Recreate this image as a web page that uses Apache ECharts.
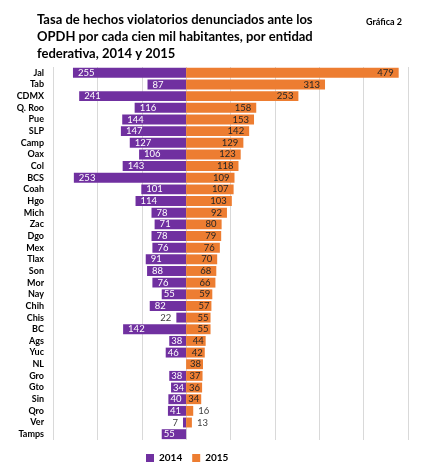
<!DOCTYPE html>
<html><head><meta charset="utf-8">
<script src="https://cdn.jsdelivr.net/npm/echarts@6/dist/echarts.min.js"></script>
<style>html,body{margin:0;padding:0;background:#fff}#c{width:429px;height:471px}</style>
</head><body><div id="c"></div>
<script>
const categories = ["Jal","Tab","CDMX","Q. Roo","Pue","SLP","Camp","Oax","Col","BCS","Coah","Hgo","Mich","Zac","Dgo","Mex","Tlax","Son","Mor","Nay","Chih","Chis","BC","Ags","Yuc","NL","Gro","Gto","Sin","Qro","Ver","Tamps"];
const values2014 = [255,87,241,116,144,147,127,106,143,253,101,114,78,71,78,76,91,88,76,55,82,22,142,38,46,null,38,34,40,41,7,55];
const values2015 = [479,313,253,158,153,142,129,123,118,109,107,103,92,80,79,76,70,68,66,59,57,55,55,44,42,38,37,36,34,16,13,null];
const xTicks = {min:-300, max:500, interval:100};

const FONT = 'Lato';
const smallOut2014 = 30, smallOut2015 = 20;
const d2014 = values2014.map(v => {
  if (v == null) return null;
  const o = {value: -v};
  if (v < smallOut2014) o.label = {position:'left', color:'#404040'};
  else if (v < 60) o.label = {distance:2};
  return o;
});
const d2015 = values2015.map(v => {
  if (v == null) return null;
  const o = {value: v};
  if (v < smallOut2015) o.label = {position:'right', color:'#404040'};
  else if (v < 60) o.label = {distance:2};
  return o;
});

const chart = echarts.init(document.getElementById('c'), null, {renderer:'canvas'});
chart.setOption({
  animation:false,
  textStyle:{fontFamily:FONT},
  title:[
    {text:'Tasa de hechos violatorios denunciados ante los\nOPDH por cada cien mil habitantes, por entidad\nfederativa, 2014 y 2015',
     left:32, top:6,
     textStyle:{fontFamily:FONT, fontSize:13, fontWeight:'bold', color:'#000', lineHeight:17}},
    {text:'Gráfica 2', left:361, top:13,
     textStyle:{fontFamily:FONT, fontSize:9, fontWeight:'bold', color:'#000'}}
  ],
  legend:{bottom:3, left:141, itemWidth:8, itemHeight:8, icon:'rect', itemGap:10,
    textStyle:{fontFamily:FONT, fontSize:10, color:'#000', fontWeight:'bold'},
    data:['2014','2015']},
  grid:{left:53, right:21, top:67, bottom:31, containLabel:false},
  xAxis:{type:'value', min:xTicks.min, max:xTicks.max, interval:xTicks.interval,
    axisLabel:{show:false}, axisLine:{show:false}, axisTick:{show:false},
    splitLine:{show:true, lineStyle:{color:'#d9d9d9', width:1}}},
  yAxis:{type:'category', data:categories, inverse:true,
    axisLine:{show:false, onZero:false}, axisTick:{show:false},
    axisLabel:{interval:0, fontFamily:FONT, fontSize:9, fontWeight:'bold', color:'#000', margin:9}},
  series:[
    {name:'2014', type:'bar', stack:'s', data:d2014, barCategoryGap:'15%',
     itemStyle:{color:'#7030A0'},
     label:{show:true, position:'insideLeft', distance:5, color:'#fff', fontSize:9.5, fontFamily:FONT,
       formatter:p => Math.abs(p.value)}},
    {name:'2015', type:'bar', stack:'s', data:d2015, barCategoryGap:'15%',
     itemStyle:{color:'#ED7D31'},
     label:{show:true, position:'insideRight', distance:5, color:'#262626', fontSize:9.5, fontFamily:FONT,
       formatter:p => Math.abs(p.value)}}
  ]
});
</script></body></html>
